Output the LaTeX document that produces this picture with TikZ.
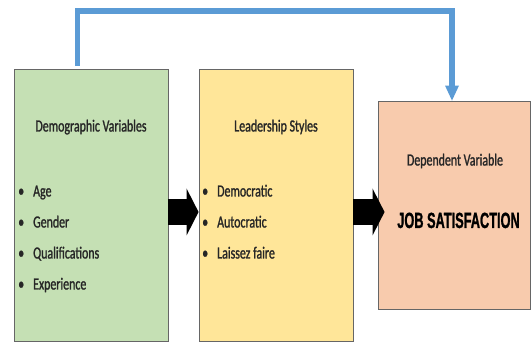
\documentclass[tikz,border=0pt]{standalone}
\usepackage{fontspec}
\setmainfont[FakeStretch=0.7, FakeBold=1.3]{Carlito}
\newfontfamily\headfont[FakeStretch=0.58, FakeBold=1]{Liberation Sans}
\usetikzlibrary{arrows.meta}
\definecolor{demogreen}{HTML}{C5E0B4}
\definecolor{leadyellow}{HTML}{FFE699}
\definecolor{deporange}{HTML}{F8CBAD}
\definecolor{linkblue}{HTML}{5B9BD5}

\begin{document}
\begin{tikzpicture}[x=1pt, y=-1pt,
  box/.style={draw=black!60, line width=0.9pt, inner sep=0pt, minimum width=154pt, minimum height=272pt},
  title/.style={anchor=base, text=black!85, font=\fontsize{17}{20}\selectfont},
  bulletitem/.style={anchor=base west, inner sep=0pt, text=black!85, font=\fontsize{17}{20}\selectfont, execute at begin node={\makebox[24pt]{\textbullet}}},
  bigarrow/.style={line width=26pt, -{Triangle[length=12pt, width=47pt, line width=0pt]}},
  feedback/.style={linkblue, line width=5.5pt, -{Triangle[length=15pt, width=14pt, line width=0pt]}}]
\useasboundingbox (0,0) rectangle (531,342);
\node[box, fill=demogreen] (demo) at (91,205) {}; %green box
\node[box, fill=leadyellow] (lead) at (276,205) {}; %yellow box
\node[box, fill=deporange, minimum width=152pt, minimum height=208pt] (dep) at (454,205) {}; %orange box

     \node[title] (demotitle) at (91,131.5) {Demographic Variables};
     \node[bulletitem] (age) at (9,196.5) {Age};
     \node[bulletitem] (gender) at (9,227.5) {Gender};
     \node[bulletitem] (qual) at (9,258.5) {Qualifications};
     \node[bulletitem] (exper) at (9,289.5) {Experience};

     \node[title] (leadtitle) at (276,131.5) {Leadership Styles};
     \node[bulletitem] (democ) at (193,196.5) {Democratic};
     \node[bulletitem] (autoc) at (193,227.5) {Autocratic};
     \node[bulletitem] (laissez) at (193,258.5) {Laissez faire};

     \node[title] (deptitle) at (455,165.5) {Dependent Variable};
     \node[anchor=base, font=\headfont\bfseries\fontsize{22}{26}\selectfont] (job) at (458.5,228) {JOB SATISFACTION};

    \draw[bigarrow] ([yshift=-7pt]demo.east) -- ([yshift=-7pt]lead.west); %green to yellow
    \draw[bigarrow] ([yshift=-7pt]lead.east) -- ([xshift=7pt,yshift=-7pt]dep.west); %yellow to orange

\coordinate (corner) at (452,11);
\draw[feedback] ([xshift=-13.5pt,yshift=3pt]demo.north) |- (corner) -- ([xshift=-2pt]dep.north); %top link
\end{tikzpicture}
\end{document}
